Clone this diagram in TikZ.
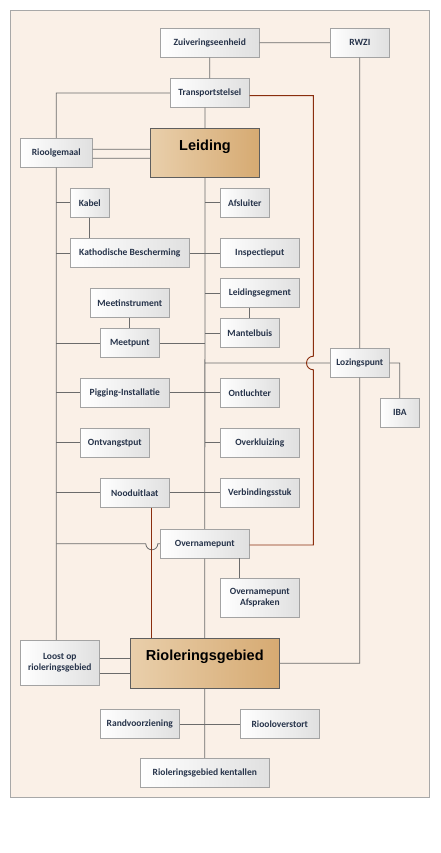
\documentclass[tikz,border=0pt]{standalone}
\usepackage{fontspec}
\setmainfont{Carlito}
\newfontfamily\headfont{Liberation Sans}
\usetikzlibrary{positioning}

\definecolor{framefill}{HTML}{FAF0E7}
\definecolor{framedraw}{HTML}{A8A8A8}
\definecolor{boxdraw}{HTML}{A3A3A3}
\definecolor{boxright}{HTML}{E0E0E0}
\definecolor{tanleft}{HTML}{E9CFAB}
\definecolor{tanright}{HTML}{D6AA72}
\definecolor{tandraw}{HTML}{5E5E5E}
\definecolor{linkgray}{HTML}{6B6B6B}
\definecolor{linkred}{HTML}{8A2E0E}
\definecolor{textblue}{HTML}{26334A}

\begin{document}
\begin{tikzpicture}[x=1pt,y=-1pt,
    box/.style={draw=boxdraw,line width=0.8pt,left color=white,right color=boxright,
                inner sep=0pt,align=center,text=textblue,
                font=\bfseries\fontsize{9.5}{11.5}\selectfont},
    big box/.style={draw=tandraw,line width=0.8pt,left color=tanleft,right color=tanright,
                inner sep=0pt,text height=11pt,text depth=16pt,
                font=\headfont\bfseries\fontsize{14.5}{17}\selectfont},
    wh/.style 2 args={minimum width=#1pt,minimum height=#2pt},
    link/.style={draw=linkgray,line width=0.8pt},
    red link/.style={draw=linkred,line width=0.9pt}]
  \useasboundingbox (0,0) rectangle (440,853);
  \draw[fill=framefill,draw=framedraw,line width=0.8pt] (10.3,10.3) rectangle (429.7,797.3);

  % top part
  \node[box,wh={99}{29}] (zuiv) at (209.8,42.8) {Zuiveringseenheid};
  \node[box,wh={59}{29}] (rwzi) at (359.8,42.8) {RWZI};
  \node[box,wh={79}{28.6}] (transport) at (209.8,93) {Transportstelsel};
  \node[big box,wh={108.6}{49}] (leiding) at (205,152.8) {Leiding};
  \node[box,wh={72}{29}] (rioolgemaal) at (56.3,152.8) {Rioolgemaal};

  % parts of the pipe
  \node[box,wh={39}{29}] (kabel) at (89.8,202.8) {Kabel};
  \node[box,wh={49}{29}] (afsluiter) at (244.8,202.8) {Afsluiter};
  \node[box,wh={119}{28.6}] (kathodisch) at (129.8,253) {Kathodische Bescherming};
  \node[box,wh={79}{28.6}] (inspectieput) at (259.8,253) {Inspectieput};
  \node[box,wh={79}{28.6}] (segment) at (259.8,293) {Leidingsegment};
  \node[box,wh={59}{28.6}] (mantelbuis) at (249.8,333) {Mantelbuis};
  \node[box,wh={79}{28.6}] (meetinstrument) at (129.8,303) {Meetinstrument};
  \node[box,wh={59}{28.6}] (meetpunt) at (129.8,343) {Meetpunt};
  \node[box,wh={59}{28.6}] (lozingspunt) at (359.8,363) {Lozingspunt};
  \node[box,wh={39}{29}] (iba) at (399.8,412.8) {IBA};
  \node[box,wh={89}{29}] (pigging) at (124.8,392.8) {Pigging-Installatie};
  \node[box,wh={59}{29}] (ontluchter) at (249.8,392.8) {Ontluchter};
  \node[box,wh={69}{29}] (ontvangstput) at (114.8,442.8) {Ontvangstput};
  \node[box,wh={79}{29}] (overkluizing) at (259.8,442.8) {Overkluizing};
  \node[box,wh={69}{29}] (nooduitlaat) at (134.8,492.8) {Nooduitlaat};
  \node[box,wh={79}{29}] (verbinding) at (259.8,492.8) {Verbindingsstuk};
  \node[box,wh={89}{29}] (overnamepunt) at (204.8,543.8) {Overnamepunt};
  \node[box,wh={79}{39}] (afspraken) at (259.8,597.8) {Overnamepunt\\Afspraken};

  % bottom part
  \node[big box,wh={149}{50}] (gebied) at (204.8,663.3) {Rioleringsgebied};
  \node[box,wh={79}{45}] (loostop) at (59.8,662.8) {Loost op\\rioleringsgebied};
  \node[box,wh={79}{29.5}] (randvoorziening) at (139.8,724) {Randvoorziening};
  \node[box,wh={79}{29}] (overstort) at (279.8,724) {Riooloverstort};
  \node[box,wh={129}{29}] (kentallen) at (204.8,772.8) {Rioleringsgebied kentallen};

  \coordinate (redx) at (313.3,0);
  \coordinate (noodout) at ([xshift=17pt]nooduitlaat.south);

  % grey connectors
  \draw[link] (zuiv) -- (rwzi)
              (zuiv) -- (transport)
              (leiding.north) -- (leiding.north |- transport.south)
              (transport.west) -| (rioolgemaal.north)
              ([yshift=3.5pt]rioolgemaal.east) -- ([yshift=3.5pt]rioolgemaal.east -| leiding.west)
              ([yshift=-5.5pt]rioolgemaal.east) -- ([yshift=-5.5pt]rioolgemaal.east -| leiding.west)
              (rioolgemaal.south) -- (rioolgemaal.south |- loostop.north)
              (leiding.south) -- (overnamepunt.north)
              (overnamepunt.south) -- (gebied.north)
              (gebied.south) -- (kentallen.north)
              (rwzi.south) -- (lozingspunt.north)
              (lozingspunt.south) |- (gebied.east)
              (lozingspunt.east) -| (iba.north)
              (lozingspunt.west) -- (lozingspunt.west -| leiding.south);
  \draw[link] (kabel.west) -- (kabel.west -| rioolgemaal.south)
              (kathodisch.west) -- (kathodisch.west -| rioolgemaal.south)
              (meetpunt.west) -- (meetpunt.west -| rioolgemaal.south)
              (pigging.west) -- (pigging.west -| rioolgemaal.south)
              (ontvangstput.west) -- (ontvangstput.west -| rioolgemaal.south)
              (nooduitlaat.west) -- (nooduitlaat.west -| rioolgemaal.south)
              (afsluiter.west) -- (afsluiter.west -| leiding.south)
              (segment.west) -- (segment.west -| leiding.south)
              (mantelbuis.west) -- (mantelbuis.west -| leiding.south)
              (overkluizing.west) -- (overkluizing.west -| leiding.south)
              (meetpunt.east) -- (meetpunt.east -| leiding.south)
              (kathodisch.east) -- (inspectieput.west)
              (pigging.east) -- (ontluchter.west)
              (nooduitlaat.east) -- (verbinding.west)
              (randvoorziening.east) -- (overstort.west)
              (kabel.south) -- (kabel.south |- kathodisch.north)
              (meetinstrument.south) -- (meetpunt.north)
              (mantelbuis.north) -- (mantelbuis.north |- segment.south)
              ([xshift=-20.5pt]afspraken.north) -- ++(0,-20)
              ([yshift=4.5pt]loostop.east) -- ([yshift=4.5pt]loostop.east -| gebied.west)
              ([yshift=-10.5pt]loostop.east) -- ([yshift=-10.5pt]loostop.east -| gebied.west);
  \draw[link] (overnamepunt.west) -- ([xshift=6pt]noodout |- overnamepunt.west)
              arc[start angle=0,end angle=-180,radius=6pt]
              -- (overnamepunt.west -| rioolgemaal.south);

  % red connectors
  \draw[red link] (noodout) -- (noodout |- gebied.north);
  \draw[red link] ([yshift=-2.7pt]transport.east) -| ([yshift=6.8pt]redx |- lozingspunt.west)
                  arc[start angle=90,end angle=270,radius=6.8pt]
                  |- ([yshift=-1.2pt]overnamepunt.east);
\end{tikzpicture}
\end{document}
